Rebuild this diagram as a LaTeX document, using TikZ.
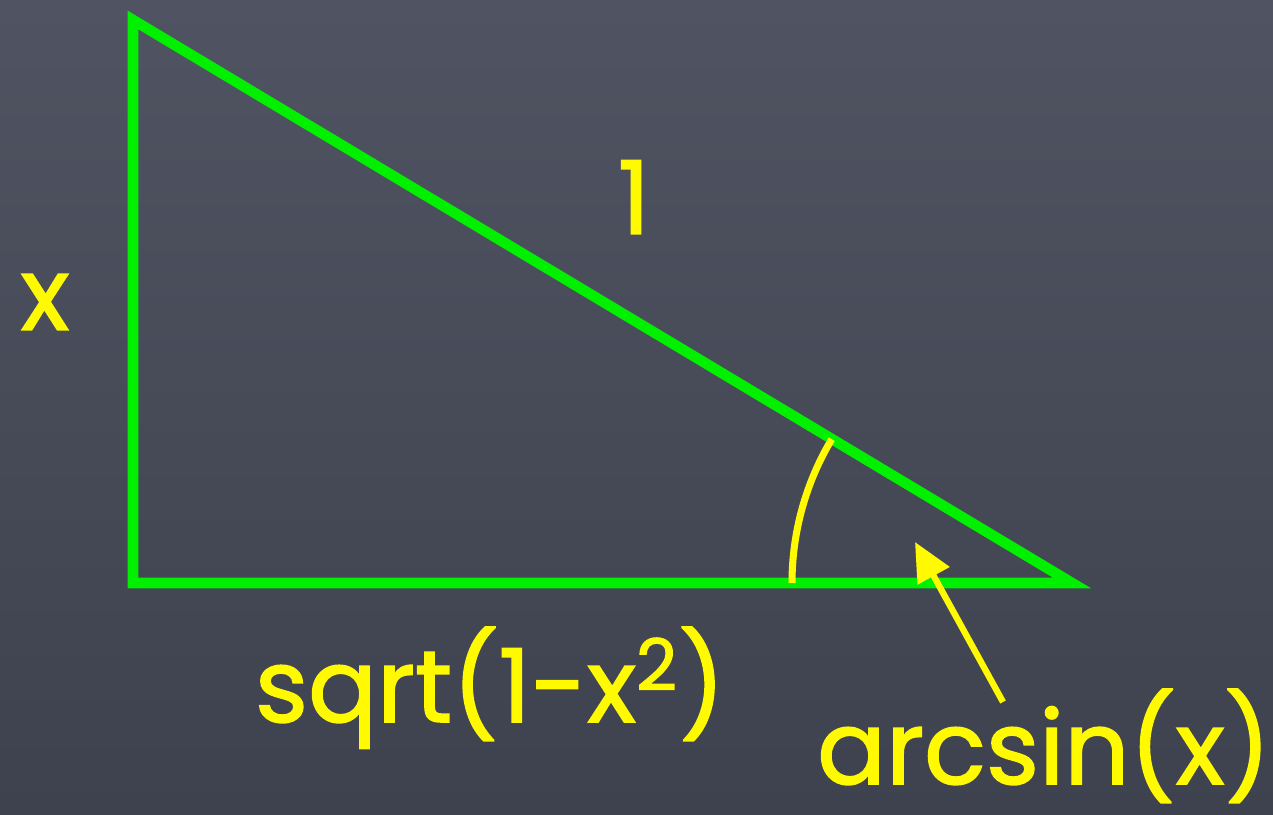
\documentclass[tikz,border=0pt]{standalone}
\usepackage{fontspec}
\newfontfamily\chalkfont{Poppins}[FakeBold=1.5]
\usetikzlibrary{arrows.meta}

\definecolor{board}{RGB}{80,84,98}
\definecolor{boarddark}{RGB}{62,66,78}
\definecolor{chalkgreen}{RGB}{0,240,0}
\definecolor{chalkyellow}{RGB}{255,250,0}

\begin{document}
\begin{tikzpicture}[
  side/.style={draw=chalkgreen,line width=3pt,line join=miter},
  lbl/.style={text=chalkyellow,font=\chalkfont\fontsize{29}{33}\selectfont,inner sep=0pt},
  angmark/.style={draw=chalkyellow,line width=2pt},
  pointer/.style={-{Triangle[length=11pt,width=10pt]},draw=chalkyellow,fill=chalkyellow,line width=1.8pt}
]
  % board
  \shade[top color=board,bottom color=boarddark] (0,0) rectangle (12.73,8.15);
  \useasboundingbox (0,0) rectangle (12.73,8.15);

  \coordinate (top)   at (1.33,7.95);
  \coordinate (right) at (1.33,2.32);
  \coordinate (tip)   at (10.72,2.32);

  \draw[side] (top) -- (right) -- (tip) -- cycle;
  \draw[angmark] (tip) ++(180:2.8) arc[start angle=180,end angle=149.1,radius=2.8];

  \node[lbl,anchor=base] (opp)  at (0.45,4.85) {x};
  \node[lbl,anchor=base] (hyp)  at (6.34,5.81) {1};
  \node[lbl,anchor=base] (adj)  at (4.90,0.93) {sqrt(1-x\textsuperscript{2})};
  \node[lbl,anchor=base] (asin) at (10.44,0.31) {arcsin(x)};

  \coordinate (tail) at (10.03,1.13);
  \coordinate (head) at (9.15,2.73);
  \draw[pointer] (tail) -- (head);
\end{tikzpicture}
\end{document}
